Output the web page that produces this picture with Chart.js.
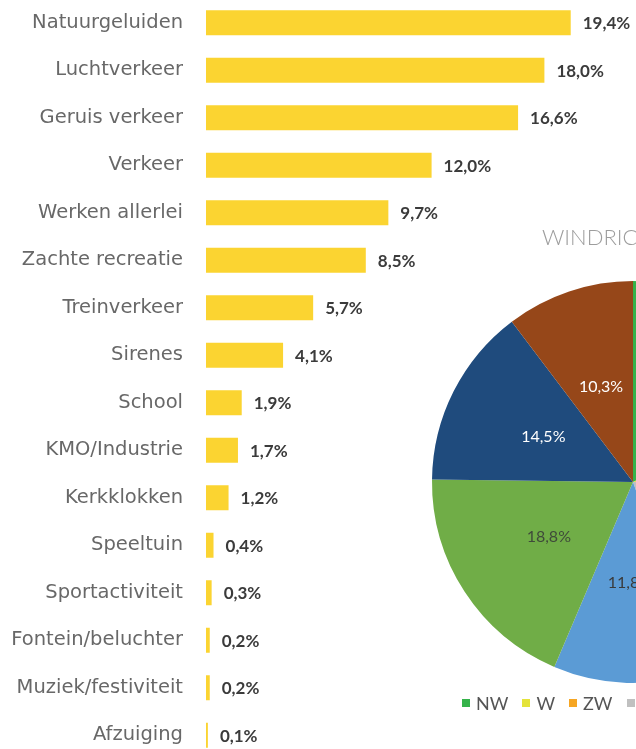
<!DOCTYPE html>
<html lang="nl">
<head>
  <meta charset="UTF-8" />
  <title>Geluidsbronnen en windrichting</title>
  <script src="https://cdn.jsdelivr.net/npm/chart.js"></script>
  <style>
    html, body {
      margin: 0;
      padding: 0;
      width: 636px;
      height: 749px;
      overflow: hidden;
      background: #fff;
    }

    .bars {
      position: absolute;
      left: 0;
      top: -1px;
      width: 636px;
      height: 760px;
    }

    .pie {
      position: absolute;
      left: 423px;
      top: 272px;
      width: 420px;
      height: 420px;
    }

    .pie-title {
      position: absolute;
      left: 542px;
      top: 223px;
      font-family: Lato, sans-serif;
      font-weight: 300;
      font-size: 22px;
      color: #9d9d9d;
      white-space: nowrap;
    }

    .pie-legend {
      position: absolute;
      left: 462px;
      top: 692px;
      display: flex;
      align-items: center;
      font-family: Lato, sans-serif;
      font-size: 18px;
      color: #555;
      white-space: nowrap;
    }

    .pie-legend span.box {
      display: inline-block;
      width: 8px;
      height: 8px;
      margin-right: 6px;
    }

    .pie-legend span.item {
      display: inline-flex;
      align-items: center;
      margin-right: 14px;
    }
  </style>
</head>
<body>
  <div class="bars"><canvas id="barChart"></canvas></div>
  <div class="pie-title">WINDRICHTING</div>
  <div class="pie"><canvas id="pieChart"></canvas></div>
  <div class="pie-legend" id="pieLegend"></div>

  <script>
    // geluidsbronnen (%)
    const sources = [
      'Natuurgeluiden', 'Luchtverkeer', 'Geruis verkeer', 'Verkeer',
      'Werken allerlei', 'Zachte recreatie', 'Treinverkeer', 'Sirenes',
      'School', 'KMO/Industrie', 'Kerkklokken', 'Speeltuin',
      'Sportactiviteit', 'Fontein/beluchter', 'Muziek/festiviteit', 'Afzuiging'
    ];
    const sourceShares = [19.4, 18.0, 16.6, 12.0, 9.7, 8.5, 5.7, 4.1, 1.9, 1.7, 1.2, 0.4, 0.3, 0.2, 0.2, 0.1];

    // windrichting (%), rechterhelft van de taart valt buiten beeld
    const directions = ['NW', 'W', 'ZW', 'Z', 'ZO', 'O', 'NO', 'N'];
    const directionShares = [17.9, 4.8, 2.1, 19.8, 11.8, 18.8, 14.5, 10.3];
    const directionColors = ['#35b34a', '#e4e33b', '#f6a623', '#c0c0c0', '#5b9bd5', '#70ad47', '#1f4b7d', '#964719'];
    const pieLabelColors = ['#444', '#444', '#444', '#444', '#3a3a3a', '#3f4a3a', '#fff', '#fff'];

    const fmt = v => v.toFixed(1).replace('.', ',') + '%';

    const barValueLabels = {
      id: 'barValueLabels',
      afterDatasetsDraw(chart) {
        const ctx = chart.ctx;
        const meta = chart.getDatasetMeta(0);
        ctx.save();
        ctx.font = 'bold 17px Lato, sans-serif';
        ctx.fillStyle = '#3b3b3b';
        ctx.textAlign = 'left';
        ctx.textBaseline = 'middle';
        meta.data.forEach((bar, i) => {
          ctx.fillText(fmt(sourceShares[i]), bar.x + 12, bar.y + 1);
        });
        ctx.restore();
      }
    };

    new Chart(document.getElementById('barChart'), {
      type: 'bar',
      data: {
        labels: sources,
        datasets: [{
          data: sourceShares,
          backgroundColor: '#fbd431',
          borderWidth: 0,
          barPercentage: 0.53,
          categoryPercentage: 1
        }]
      },
      options: {
        indexAxis: 'y',
        responsive: true,
        maintainAspectRatio: false,
        animation: false,
        layout: { padding: { right: 16.4, top: 0, bottom: 0, left: 0 } },
        plugins: {
          legend: { display: false },
          tooltip: { enabled: false }
        },
        scales: {
          x: { display: false, min: 0, max: 22 },
          y: {
            grid: { display: false, drawTicks: false },
            border: { display: false },
            ticks: {
              padding: 23,
              color: '#686868',
              font: { family: 'DejaVu Sans', size: 19.5 }
            },
            afterFit(scale) {
              scale.width = 206;
              scale.paddingTop = 0;
              scale.paddingBottom = 0;
            }
          }
        }
      },
      plugins: [barValueLabels]
    });

    const pieValueLabels = {
      id: 'pieValueLabels',
      afterDatasetsDraw(chart) {
        const ctx = chart.ctx;
        const meta = chart.getDatasetMeta(0);
        ctx.save();
        ctx.font = '16px Lato, sans-serif';
        ctx.textAlign = 'center';
        ctx.textBaseline = 'middle';
        meta.data.forEach((arc, i) => {
          const p = arc.tooltipPosition();
          ctx.fillStyle = pieLabelColors[i];
          ctx.fillText(fmt(directionShares[i]), p.x, p.y);
        });
        ctx.restore();
      }
    };

    new Chart(document.getElementById('pieChart'), {
      type: 'pie',
      data: {
        labels: directions,
        datasets: [{
          data: directionShares,
          backgroundColor: directionColors,
          borderWidth: 0
        }]
      },
      options: {
        responsive: true,
        maintainAspectRatio: false,
        animation: false,
        layout: { padding: 9 },
        plugins: {
          legend: { display: false },
          tooltip: { enabled: false }
        }
      },
      plugins: [pieValueLabels]
    });

    // legenda onder de taart
    const legend = document.getElementById('pieLegend');
    directions.forEach((d, i) => {
      const item = document.createElement('span');
      item.className = 'item';
      item.innerHTML = '<span class="box" style="background:' + directionColors[i] + '"></span>' + d;
      legend.appendChild(item);
    });
  </script>
</body>
</html>
